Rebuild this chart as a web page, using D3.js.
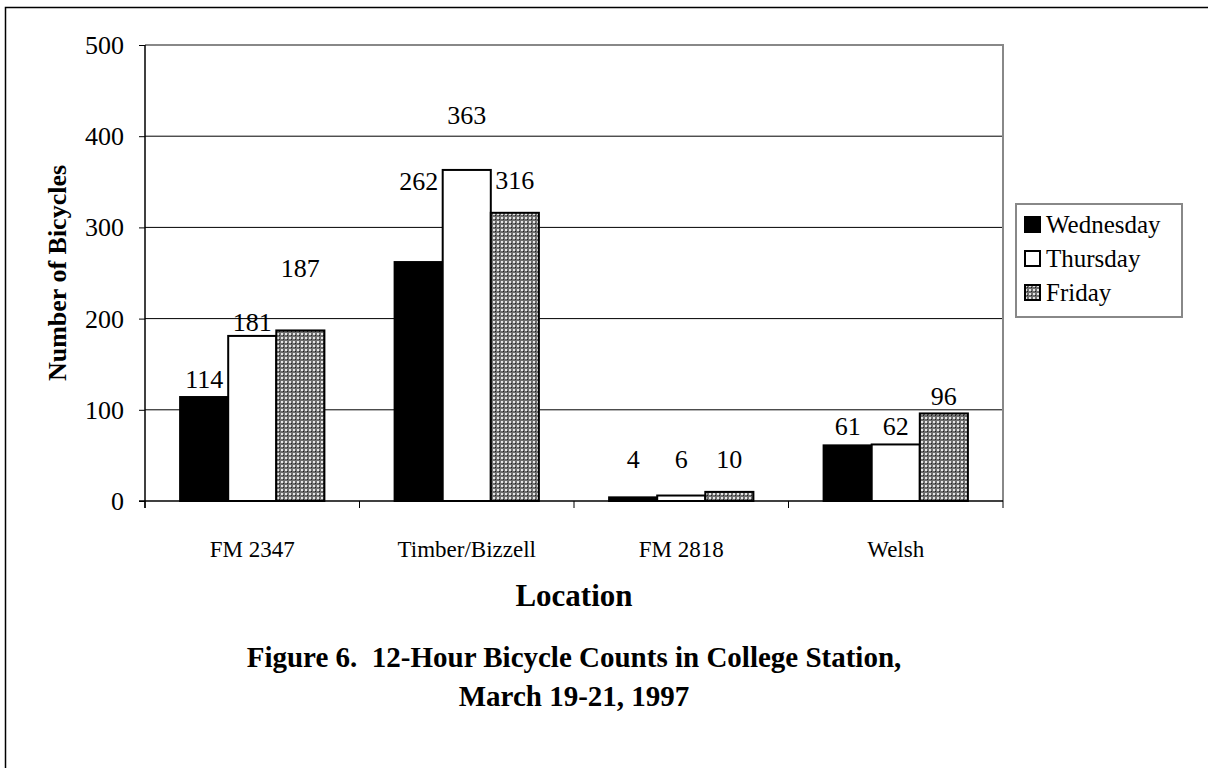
<!DOCTYPE html>
<html>
<head>
<meta charset="utf-8">
<script src="https://cdn.jsdelivr.net/npm/d3@7"></script>
<style>
  body { margin: 0; background: #fff; }
  svg text { font-family: "Liberation Serif", "Times New Roman", serif; fill: #000; }
</style>
</head>
<body>
<div id="chart"></div>
<script>
const locations = ['FM 2347', 'Timber/Bizzell', 'FM 2818', 'Welsh'];
const days = ['Wednesday', 'Thursday', 'Friday'];
const wednesday = [114, 262, 4, 61];
const thursday = [181, 363, 6, 62];
const friday = [187, 316, 10, 96];
const yTicks = [0, 100, 200, 300, 400, 500];

// distance (px) from bar top to the middle of its value label, as in the original
const labelLift = [
  [18, 81, 38, 19],
  [14, 55, 37, 18],
  [62, 33, 33, 17]
];

const FONT = '"Liberation Serif", "Times New Roman", serif';
const series = [wednesday, thursday, friday];
const width = 1208, height = 768;
const margin = { top: 45, right: 205, bottom: 267, left: 145 };
const w = width - margin.left - margin.right;
const h = height - margin.top - margin.bottom;

const svg = d3.select('#chart').append('svg')
  .attr('width', width)
  .attr('height', height)
  .attr('font-family', FONT);

const defs = svg.append('defs');
const pat = defs.append('pattern')
  .attr('id', 'dots')
  .attr('width', 4).attr('height', 4)
  .attr('patternUnits', 'userSpaceOnUse');
pat.append('rect').attr('width', 4).attr('height', 4).attr('fill', '#6e6e6e');
pat.append('rect').attr('x', 0).attr('y', 0).attr('width', 2).attr('height', 2).attr('fill', '#e6e6e6');
pat.append('rect').attr('x', 2).attr('y', 2).attr('width', 1).attr('height', 1).attr('fill', '#222');

const fills = ['#000', '#fff', 'url(#dots)'];

// outer frame
svg.append('rect')
  .attr('x', 5.5).attr('y', 7.5)
  .attr('width', 1220).attr('height', 800)
  .attr('fill', 'none').attr('stroke', '#000').attr('stroke-width', 1.5);

const g = svg.append('g')
  .attr('transform', 'translate(' + margin.left + ',' + margin.top + ')');

const x = d3.scaleBand().domain(locations).range([0, w]);
const xs = d3.scaleBand().domain(days).range([0, x.bandwidth()]).paddingOuter(0.73).paddingInner(0);
const y = d3.scaleLinear().domain([0, 500]).range([h, 0]);

// gridlines
g.selectAll('.grid').data(yTicks.filter(d => d > 0 && d < 500)).enter().append('line')
  .attr('x1', 0).attr('x2', w)
  .attr('y1', d => y(d)).attr('y2', d => y(d))
  .attr('stroke', '#000').attr('stroke-width', 1);

// plot border top/right
g.append('path')
  .attr('d', 'M0,' + y(500) + 'H' + w + 'V' + h)
  .attr('fill', 'none').attr('stroke', '#888').attr('stroke-width', 2);

// bars + value labels
days.forEach((day, i) => {
  g.selectAll('.bar' + i).data(series[i]).enter().append('rect')
    .attr('x', (d, j) => x(locations[j]) + xs(day))
    .attr('y', d => y(d))
    .attr('width', xs.bandwidth())
    .attr('height', d => h - y(d))
    .attr('fill', fills[i])
    .attr('stroke', '#000').attr('stroke-width', 2);

  g.selectAll('.lbl' + i).data(series[i]).enter().append('text')
    .attr('x', (d, j) => x(locations[j]) + xs(day) + xs.bandwidth() / 2)
    .attr('y', (d, j) => y(d) - labelLift[i][j] + 9)
    .attr('text-anchor', 'middle')
    .attr('font-size', 26)
    .text(d => d);
});

// y axis
const yAxis = g.append('g')
  .call(d3.axisLeft(y).tickValues(yTicks).tickSize(6).tickPadding(15).tickFormat(d3.format('d')));
yAxis.attr('font-family', FONT);
yAxis.select('.domain').attr('stroke', '#000').attr('stroke-width', 1.5).attr('d', 'M0,' + y(500) + 'V' + (h + 7));
yAxis.selectAll('.tick line').attr('stroke', '#000');
yAxis.selectAll('.tick text').attr('font-size', 26).attr('dy', '0.33em');

// x axis
const xAxis = g.append('g')
  .attr('transform', 'translate(0,' + h + ')')
  .call(d3.axisBottom(x).tickSize(0).tickPadding(40));
xAxis.attr('font-family', FONT);
xAxis.select('.domain').attr('stroke', '#000').attr('stroke-width', 1.5).attr('d', 'M-6,0H' + w);
xAxis.selectAll('.tick text').attr('font-size', 23);
g.selectAll('.xtick').data(d3.range(locations.length + 1)).enter().append('line')
  .attr('x1', d => d * x.step()).attr('x2', d => d * x.step())
  .attr('y1', h).attr('y2', h + 7)
  .attr('stroke', '#000');

// axis titles
svg.append('text')
  .attr('transform', 'translate(57,' + (margin.top + h / 2) + ') rotate(-90)')
  .attr('text-anchor', 'middle').attr('dy', '0.35em')
  .attr('font-size', 26).attr('font-weight', 'bold')
  .text('Number of Bicycles');

svg.append('text')
  .attr('x', margin.left + w / 2).attr('y', 606)
  .attr('text-anchor', 'middle')
  .attr('font-size', 31).attr('font-weight', 'bold')
  .text('Location');

svg.append('text')
  .attr('x', margin.left + w / 2).attr('y', 667)
  .attr('text-anchor', 'middle').attr('xml:space', 'preserve')
  .attr('font-size', 29).attr('font-weight', 'bold')
  .text('Figure 6.  12-Hour Bicycle Counts in College Station,');

svg.append('text')
  .attr('x', margin.left + w / 2).attr('y', 706)
  .attr('text-anchor', 'middle')
  .attr('font-size', 29).attr('font-weight', 'bold')
  .text('March 19-21, 1997');

// legend
const legend = svg.append('g').attr('transform', 'translate(1016,204)');
legend.append('rect')
  .attr('width', 166).attr('height', 113)
  .attr('fill', '#fff').attr('stroke', '#888').attr('stroke-width', 2);
days.forEach((day, i) => {
  const item = legend.append('g').attr('transform', 'translate(9,' + (21 + i * 34) + ')');
  item.append('rect')
    .attr('x', 0).attr('y', -8).attr('width', 15).attr('height', 15)
    .attr('fill', fills[i]).attr('stroke', '#000').attr('stroke-width', 2);
  item.append('text')
    .attr('x', 21).attr('dy', '0.33em')
    .attr('font-size', 25)
    .text(day);
});
</script>
</body>
</html>
